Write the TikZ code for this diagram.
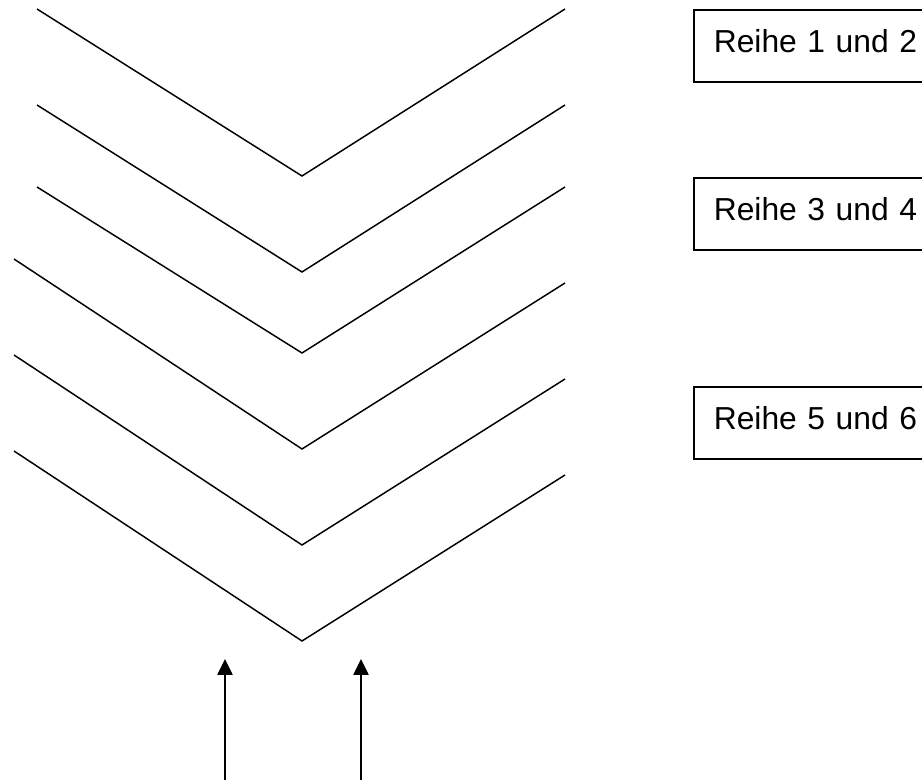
\documentclass[tikz,border=0pt]{standalone}
\usepackage{fontspec}
\setmainfont{Liberation Sans}
\usetikzlibrary{arrows.meta}
\tikzset{
    reihe/.style={draw,line width=1.2pt,anchor=north west,minimum height=54pt,
        text width=165pt,align=left,inner xsep=15pt,text depth=7.5pt,
        font=\fontsize{23.85}{28}\selectfont},
    vline/.style={line width=1.1pt,line join=miter},
    pfeil/.style={line width=1.1pt,-{Triangle[length=12pt,width=11.5pt]}}
}
\begin{document}
\begin{tikzpicture}[x=0.75pt,y=-0.75pt]
    \useasboundingbox (0,0) rectangle (922,780);
    \clip (0,0) rectangle (922,780);
    % Reihen
    \draw[vline] (37,9) -- (302,176) -- (565,9);
    \draw[vline] (37,105) -- (302,272) -- (565,105);
    \draw[vline] (37,187) -- (302,353) -- (565,187);
    \draw[vline] (14,259) -- (302,449) -- (565,283);
    \draw[vline] (14,355) -- (302,545) -- (565,379);
    \draw[vline] (14,451) -- (302,641) -- (565,475);

    \node[reihe] (r12) at (693,9) {Reihe 1 und 2};
    \node[reihe] (r34) at (693,177) {Reihe 3 und 4};
    \node[reihe] (r56) at (693,386) {Reihe 5 und 6};

    \coordinate (ua) at (225,782);
    \coordinate (oa) at (225,659);
    \coordinate (ub) at (361,782);
    \coordinate (ob) at (361,659);
    \draw[pfeil] (ua) -- (oa);
    \draw[pfeil] (ub) -- (ob);
\end{tikzpicture}
\end{document}
